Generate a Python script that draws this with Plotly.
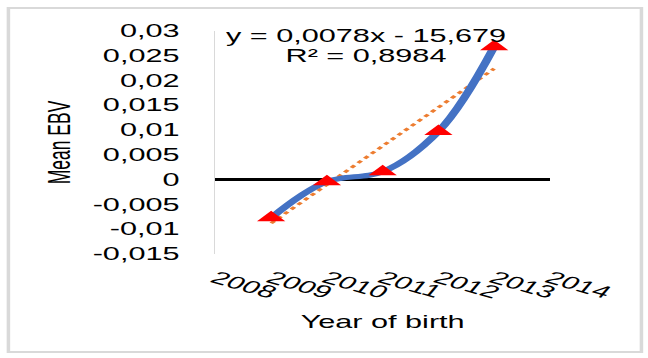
import plotly.graph_objects as go

# Mean estimated breeding value by year of birth
years = [2009, 2010, 2011, 2012, 2013]
mean_ebv = [-0.0077, -0.0004, 0.0016, 0.0097, 0.0268]

# Linear trend as reported
slope = 0.0078
intercept = -15.679
r_squared = 0.8984

x_ticks = [2008, 2009, 2010, 2011, 2012, 2013, 2014]
y_ticks = [0.03, 0.025, 0.02, 0.015, 0.01, 0.005, 0, -0.005, -0.01, -0.015]

# The chart is laid out narrow and widened horizontally on the page
OUT_W, H = 648, 358
W = 370
STRETCH = OUT_W / W
L, R, T, B = 216 / STRETCH, 97.5 / STRETCH, 31, 104
PW, PH = W - L - R, H - T - B

FONT = "Liberation Sans, Arial, sans-serif"
FS = 17.5


def paper_x(px):
    return (px / STRETCH - L) / PW


def paper_y(py):
    return (H - B - py) / PH


def comma(v):
    if v == 0:
        return "0"
    return f"{v:.3f}".rstrip("0").replace(".", ",")


trend_x = [years[0], years[-1]]
trend_y = [slope * x + intercept for x in trend_x]

fig = go.Figure()
fig.add_trace(go.Scatter(
    x=trend_x, y=trend_y, mode="lines",
    line=dict(color="#ED7D31", width=2.5, dash="dot"),
    showlegend=False, hoverinfo="skip",
))
fig.add_trace(go.Scatter(
    x=years, y=mean_ebv, mode="lines+markers",
    line=dict(color="#4472C4", width=5, shape="spline", smoothing=1),
    marker=dict(symbol="triangle-up", size=14, color="#FF0000"),
    showlegend=False,
))

eq_text = f"y = {str(slope).replace('.', ',')}x - {str(abs(intercept)).replace('.', ',')}"
r2_text = f"R² = {str(r_squared).replace('.', ',')}"
for txt, py in [(eq_text, 36), (r2_text, 56)]:
    fig.add_annotation(
        xref="paper", yref="paper", x=paper_x(367), y=paper_y(py),
        xanchor="center", yanchor="middle", text=txt, showarrow=False,
        font=dict(family=FONT, size=FS, color="#000"),
    )

# chart frame
fig.add_shape(type="rect", xref="paper", yref="paper",
              x0=paper_x(9), x1=paper_x(642), y0=paper_y(352), y1=paper_y(8),
              line=dict(color="#D9D9D9", width=2), layer="below")

fig.update_layout(
    width=W, height=H,
    margin=dict(l=L, r=R, t=T, b=B, pad=0),
    paper_bgcolor="white", plot_bgcolor="white",
    font=dict(family=FONT, color="#000", size=FS),
    xaxis=dict(
        range=[2008, 2014], tickvals=x_ticks, ticktext=[str(t) for t in x_ticks],
        tickangle=26, showgrid=False, zeroline=False, showline=False,
        ticks="", ticklabelstandoff=10, tickfont=dict(size=FS, color="#000"),
        title=dict(text="Year of birth", font=dict(size=FS), standoff=14),
        automargin=False,
    ),
    yaxis=dict(
        range=[-0.015, 0.03], tickvals=y_ticks, ticktext=[comma(v) for v in y_ticks],
        showgrid=False, zeroline=True, zerolinecolor="#000", zerolinewidth=2.5,
        showline=True, linecolor="#D9D9D9", linewidth=1, ticks="",
        tickfont=dict(size=FS, color="#000"), ticklabelstandoff=16,
        title=dict(text="Mean EBV", font=dict(size=FS), standoff=7),
        automargin=False,
    ),
)

widen = f"""
var gd = document.getElementById('{{plot_id}}');
gd.style.transformOrigin = '0 0';
gd.style.transform = 'scaleX({STRETCH:.5f})';
"""

fig.write_html("out.html", post_script=widen)
